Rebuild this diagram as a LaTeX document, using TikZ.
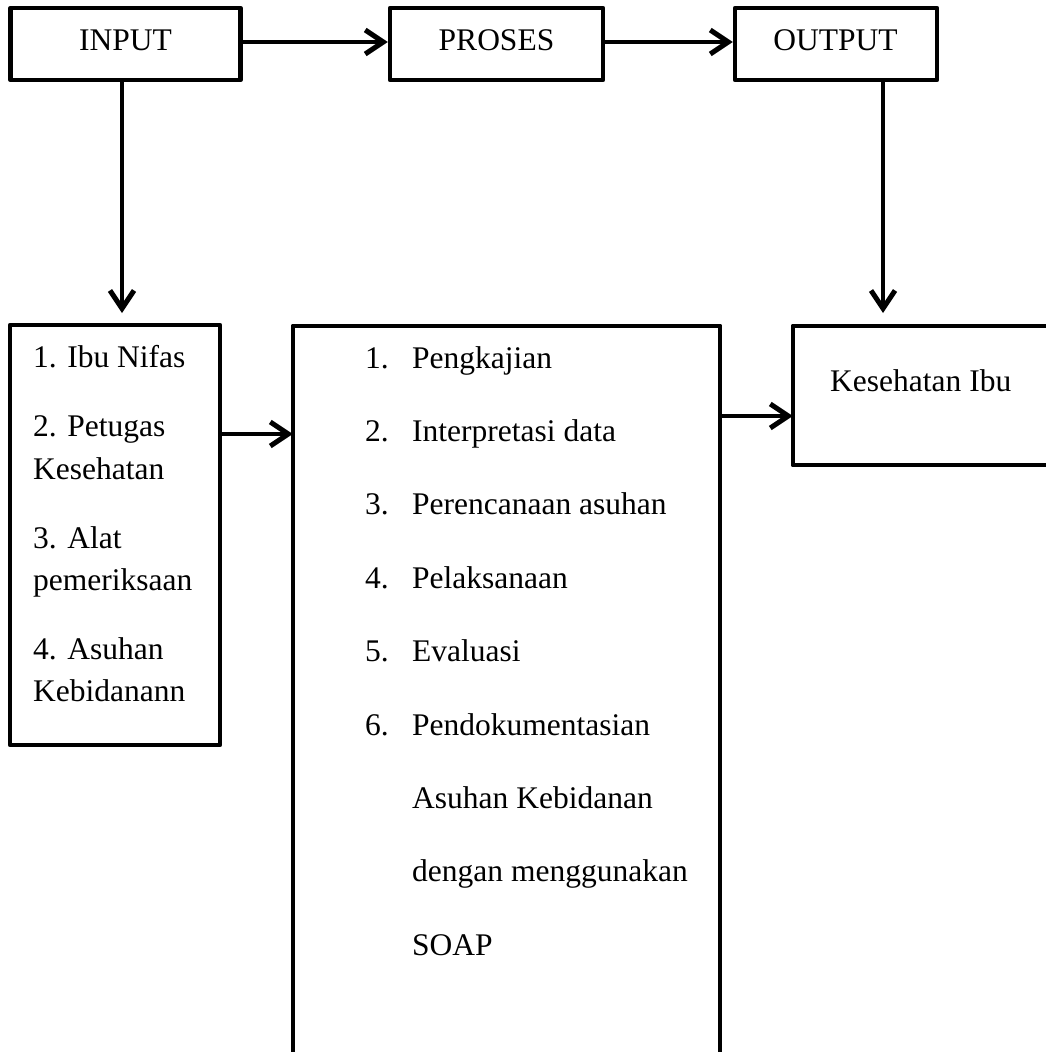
\documentclass[tikz,border=0pt]{standalone}
\usepackage{fontspec}
\setmainfont{Liberation Serif}
\usetikzlibrary{arrows.meta}
\begin{document}
\begin{tikzpicture}[x=1pt,y=-1pt,
  box/.style={draw, line width=4.5pt, line join=round, inner sep=0pt},
  frame/.style={line width=4.5pt, line join=round},
  conn/.style={line width=4.5pt, -{Straight Barb[length=18pt,width=24pt,line width=5pt]}},
  txt/.style={inner sep=0pt, font=\fontsize{31.5}{38}\selectfont},
]
\useasboundingbox (0,0) rectangle (1046,1052);

% top row boxes
\node[box, minimum width=230pt, minimum height=72pt] (inp) at (125.5,44) {};
\node[box, minimum width=213pt, minimum height=72pt] (pro) at (496.5,44) {};
\node[box, minimum width=202pt, minimum height=72pt] (out) at (836,44) {};
\node[txt, anchor=base] (inpT) at (125.5,50) {INPUT};
\node[txt, anchor=base] (proT) at (496.5,50) {PROSES};
\node[txt, anchor=base] (outT) at (835.5,50) {OUTPUT};

% lower boxes
\node[box, minimum width=210pt, minimum height=420pt] (lbox) at (115,535) {};
\node[inner sep=0pt, minimum width=427pt, minimum height=726pt] (mid) at (506.5,689) {};
\draw[frame] (mid.south west) -- (mid.north west) -- (mid.north east) -- (mid.south east);
\node[inner sep=0pt, minimum width=253pt, minimum height=139pt] (rbox) at (919.5,395.5) {};
\draw[frame] (rbox.north east) -- (rbox.north west) -- (rbox.south west) -- (rbox.south east);

% left box text
\node[txt, anchor=base west] (l1) at (33,367) {1. Ibu Nifas};
\node[txt, anchor=base west] (l2) at (33,436) {2. Petugas};
\node[txt, anchor=base west] (l2b) at (33,479) {Kesehatan};
\node[txt, anchor=base west] (l3) at (33,548) {3. Alat};
\node[txt, anchor=base west] (l3b) at (33,590) {pemeriksaan};
\node[txt, anchor=base west] (l4) at (33,659) {4. Asuhan};
\node[txt, anchor=base west] (l4b) at (33,701) {Kebidanann};

% middle box text
\node[txt, anchor=base west] (n1) at (365,368) {1.};
\node[txt, anchor=base west] (m1) at (412,368) {Pengkajian};
\node[txt, anchor=base west] (n2) at (365,441.4) {2.};
\node[txt, anchor=base west] (m2) at (412,441.4) {Interpretasi data};
\node[txt, anchor=base west] (n3) at (365,514.8) {3.};
\node[txt, anchor=base west] (m3) at (412,514.8) {Perencanaan asuhan};
\node[txt, anchor=base west] (n4) at (365,588.2) {4.};
\node[txt, anchor=base west] (m4) at (412,588.2) {Pelaksanaan};
\node[txt, anchor=base west] (n5) at (365,661.6) {5.};
\node[txt, anchor=base west] (m5) at (412,661.6) {Evaluasi};
\node[txt, anchor=base west] (n6) at (365,735) {6.};
\node[txt, anchor=base west] (m6) at (412,735) {Pendokumentasian};
\node[txt, anchor=base west] (m7) at (412,808.4) {Asuhan Kebidanan};
\node[txt, anchor=base west] (m8) at (412,881.8) {dengan menggunakan};
\node[txt, anchor=base west] (m9) at (412,955.2) {SOAP};

% right box text
\node[txt, anchor=base west] (r1) at (830,391) {Kesehatan Ibu};

% connectors
\coordinate (yA) at (0,42);
\draw[conn] (inp.east |- yA) -- (pro.west |- yA);
\draw[conn] (pro.east |- yA) -- (out.west |- yA);
\coordinate (dIn) at (122,313);
\draw[conn] (inp.south -| dIn) -- (dIn);
\coordinate (dOut) at (883,313);
\draw[conn] (out.south -| dOut) -- (dOut);
\coordinate (yB) at (0,434);
\draw[conn] (lbox.east |- yB) -- (mid.west |- yB);
\coordinate (yC) at (0,416);
\draw[conn] (mid.east |- yC) -- (rbox.west |- yC);
\end{tikzpicture}
\end{document}
